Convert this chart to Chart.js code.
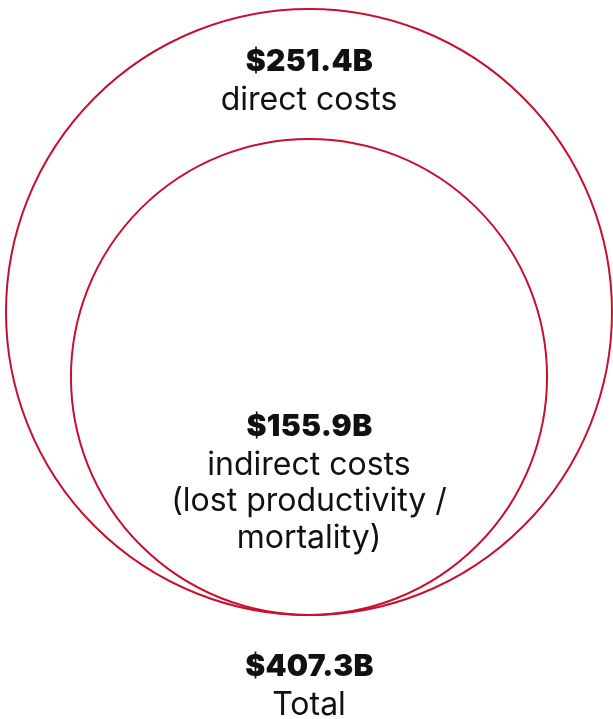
<!DOCTYPE html>
<html>
<head>
<meta charset="utf-8">
<script src="https://cdn.jsdelivr.net/npm/chart.js@4/dist/chart.umd.min.js"></script>
<style>
  html, body { margin: 0; padding: 0; background: #ffffff; }
  #wrap { width: 613px; height: 719px; position: relative; }
</style>
</head>
<body>
<div id="wrap"><canvas id="circles"></canvas></div>
<script>
// Circle sizes: area proportional to value
const circleNames = ["Total", "Inner"];
const circleValues = [407.3, 251.4];

// Text labels
const amountLabels = ["$251.4B", "$155.9B", "$407.3B"];
const captionLabels = [
  ["direct costs"],
  ["indirect costs", "(lost productivity /", "mortality)"],
  ["Total"]
];

const RED = "#c8102e";
const FONT = "Inter, 'Noto Sans', sans-serif";

const outerR = Math.sqrt(circleValues[0]);

// each circle sits on the bottom of the outer one (x = 0, y = its radius)
const points = circleValues.map((v) => ({ x: 0, y: Math.sqrt(v), v: v }));

// Draw the text blocks after the circles
const labelPlugin = {
  id: "circleLabels",
  afterDatasetsDraw(chart) {
    const ctx = chart.ctx;
    const xs = chart.scales.x;
    const ys = chart.scales.y;
    const cx = xs.getPixelForValue(0);
    const outerTop = ys.getPixelForValue(2 * outerR);
    const innerCenter = ys.getPixelForValue(Math.sqrt(circleValues[1]));
    const bottom = ys.getPixelForValue(0);

    // vertical middles of each text line
    const blocks = [
      [outerTop + 53, outerTop + 91],
      [innerCenter + 50, innerCenter + 88, innerCenter + 124, innerCenter + 161],
      [bottom + 52, bottom + 90]
    ];

    ctx.save();
    ctx.fillStyle = "#111111";
    ctx.textAlign = "center";
    ctx.textBaseline = "middle";
    for (let i = 0; i < amountLabels.length; i++) {
      const ys2 = blocks[i];
      ctx.font = "900 30px " + FONT;
      ctx.letterSpacing = "0.3px";
      ctx.fillText(amountLabels[i], cx + 0.5, ys2[0]);
      ctx.font = "400 32px " + FONT;
      ctx.letterSpacing = "0px";
      captionLabels[i].forEach((line, j) => {
        ctx.fillText(line, cx, ys2[j + 1]);
      });
    }
    ctx.restore();
  }
};

new Chart(document.getElementById("circles"), {
  type: "bubble",
  data: {
    labels: circleNames,
    datasets: [
      {
        data: points,
        parsing: false,
        backgroundColor: "rgba(0,0,0,0)",
        borderColor: RED,
        borderWidth: 2,
        hoverBorderWidth: 2,
        clip: false,
        radius: (c) => {
          const ys = c.chart.scales.y;
          if (!ys || !c.raw) return 0;
          const r = ys.getPixelForValue(0) - ys.getPixelForValue(Math.sqrt(c.raw.v));
          return isFinite(r) ? r : 0;
        }
      }
    ]
  },
  options: {
    responsive: true,
    maintainAspectRatio: false,
    animation: false,
    events: [],
    layout: { padding: { left: 6, right: 1, top: 9, bottom: 104 } },
    scales: {
      x: { type: "linear", min: -outerR, max: outerR, display: false },
      y: { type: "linear", min: 0, max: 2 * outerR, display: false }
    },
    plugins: {
      legend: { display: false },
      tooltip: { enabled: false }
    }
  },
  plugins: [labelPlugin]
});
</script>
</body>
</html>
